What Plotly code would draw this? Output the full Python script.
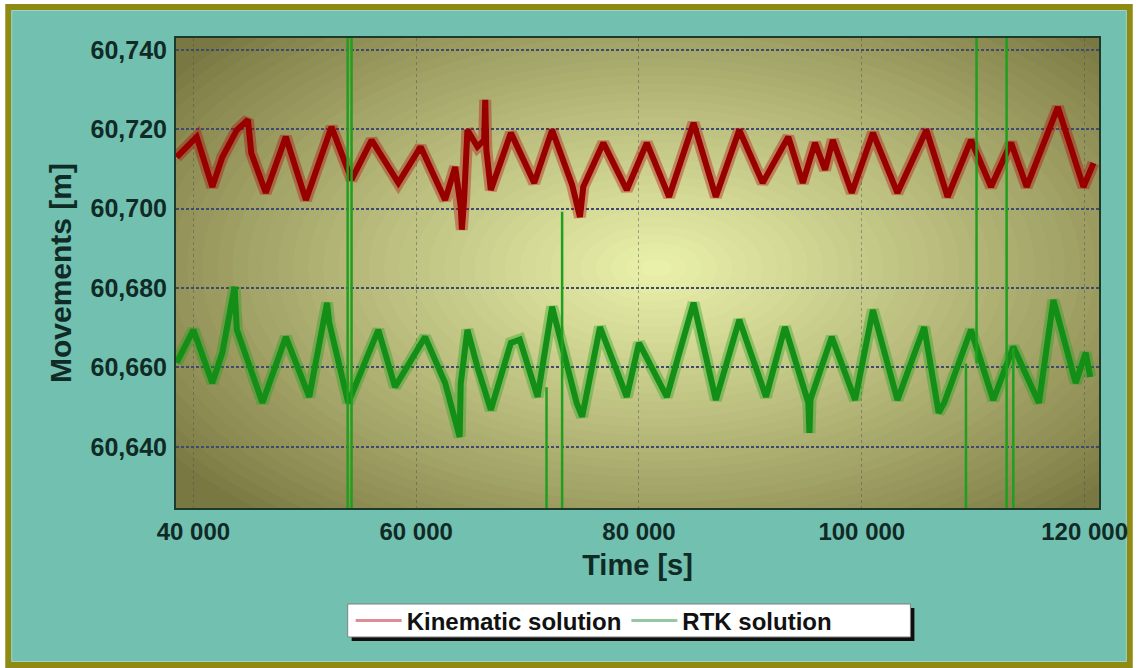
import plotly.graph_objects as go

# ---------------- data ----------------
kin_t = [38500, 40300, 41700, 42600, 43900, 44900, 45200, 46500, 48300, 50100, 52400, 53700, 54200,
         56000, 58400, 60400, 62600, 63500, 64000, 64100, 64300, 64600, 65500, 66100, 66200,
         66300, 66700, 68500, 70600, 72200, 74000, 74700, 75000, 76800, 78900, 80700, 82700,
         84900, 86900, 89000, 91100, 93400, 94700, 95800, 96700, 97400, 99100, 101000, 103200,
         105800, 107700, 109800, 111600, 113400, 114800, 117600, 119900, 120800]
kin_v = [60.7130, 60.7181, 60.7055, 60.7130, 60.7198, 60.7224, 60.7140, 60.7040, 60.7181, 60.7022,
         60.7206, 60.7115, 60.7073, 60.7173, 60.7065, 60.7156, 60.7022, 60.7105, 60.7005, 60.6947,
         60.7022, 60.7198, 60.7156, 60.7173, 60.7274, 60.7148, 60.7047, 60.7191, 60.7065, 60.7198,
         60.7060, 60.6979, 60.7055, 60.7166, 60.7047, 60.7166, 60.7030, 60.7216, 60.7030, 60.7198,
         60.7065, 60.7181, 60.7065, 60.7166, 60.7098, 60.7173, 60.7040, 60.7191, 60.7040, 60.7198,
         60.7030, 60.7173, 60.7055, 60.7166, 60.7055, 60.7256, 60.7055, 60.7115]

rtk_t = [38500, 40000, 41700, 42600, 43700, 43900, 46200, 48300, 50400, 52000, 52200, 53900,
         56600, 58100, 60800, 62600, 63900, 64000, 64600, 65500, 66700, 68500, 69300, 70900,
         72200, 74400, 74900, 76500, 78900, 80000, 82500, 84900, 86900, 89000, 91400, 93100,
         95200, 95300, 95400, 97300, 99400, 101000, 103200, 105600, 106900, 107400, 109800,
         111800, 113600, 115900, 117200, 119200, 120100, 120500]
rtk_v = [60.6612, 60.6695, 60.6561, 60.6637, 60.6803, 60.6695, 60.6511, 60.6677, 60.6526, 60.6763,
         60.6712, 60.6511, 60.6695, 60.6551, 60.6677, 60.6561, 60.6425, 60.6560, 60.6695, 60.6601,
         60.6493, 60.6662, 60.6670, 60.6526, 60.6753, 60.6511, 60.6476, 60.6702, 60.6526, 60.6662,
         60.6526, 60.6763, 60.6518, 60.6720, 60.6526, 60.6702, 60.6511, 60.6435, 60.6520, 60.6677,
         60.6518, 60.6745, 60.6518, 60.6702, 60.6486, 60.6511, 60.6695, 60.6518, 60.6652, 60.6511,
         60.6770, 60.6561, 60.6637, 60.6576]

# RTK outliers (vertical excursions leaving the visible range)
rtk_out_t = [53850, 54200, 71700, 73100, 109350, 110300, 113000, 113600]
rtk_out_lo = [60.55, 60.55, 60.55, 60.55, 60.55, 60.661, 60.55, 60.55]
rtk_out_hi = [60.80, 60.80, 60.655, 60.6992, 60.661, 60.80, 60.80, 60.665]

x_ticks = [40000, 60000, 80000, 100000, 120000]
y_ticks = [60.64, 60.66, 60.68, 60.70, 60.72, 60.74]

series_names = ["Kinematic solution", "RTK solution"]

# ---------------- styling ----------------
W, H = 1140, 668
ML, MR, MT, MB = 176, 34, 38, 160
X_RANGE = [38441, 121292]
Y_RANGE = [60.6246, 60.7430]
FONT = "Liberation Sans, Arial, Helvetica, sans-serif"
TXT = "#102a26"
TEAL = "#72c0b0"
OLIVE = "#8e8a14"

def px_to_paper_x(px):
    return (px - ML) / (W - ML - MR)

def px_to_paper_y(py):
    return (H - MB - py) / (H - MT - MB)

fig = go.Figure()

# soft halo + solid core to imitate the noisy band of the raw records
fig.add_trace(go.Scatter(x=kin_t, y=kin_v, mode="lines", name=series_names[0],
                         line=dict(color="#b00000", width=12), opacity=0.35,
                         showlegend=False, legendgroup="kin", hoverinfo="skip"))
fig.add_trace(go.Scatter(x=kin_t, y=kin_v, mode="lines", name=series_names[0],
                         line=dict(color="#980000", width=6), showlegend=False,
                         legendgroup="kin"))
fig.add_trace(go.Scatter(x=rtk_t, y=rtk_v, mode="lines", name=series_names[1],
                         line=dict(color="#18a018", width=12), opacity=0.35,
                         showlegend=False, legendgroup="rtk", hoverinfo="skip"))
fig.add_trace(go.Scatter(x=rtk_t, y=rtk_v, mode="lines", name=series_names[1],
                         line=dict(color="#138f18", width=6), showlegend=False,
                         legendgroup="rtk"))
ox, oy = [], []
for t, lo, hi in zip(rtk_out_t, rtk_out_lo, rtk_out_hi):
    ox += [t, t, None]
    oy += [lo, hi, None]
fig.add_trace(go.Scatter(x=ox, y=oy, mode="lines", name=series_names[1],
                         line=dict(color="#1ea01e", width=2.5), showlegend=False,
                         legendgroup="rtk", connectgaps=False))
# legend entries (pale line samples as in the reference)
fig.add_trace(go.Scatter(x=[None], y=[None], mode="lines", name=series_names[0],
                         line=dict(color="#e08c96", width=3), legendgroup="kin"))
fig.add_trace(go.Scatter(x=[None], y=[None], mode="lines", name=series_names[1],
                         line=dict(color="#96c8a2", width=3), legendgroup="rtk"))

shapes = []
# outer frame
shapes.append(dict(type="rect", xref="paper", yref="paper", layer="below",
                   x0=px_to_paper_x(7), x1=px_to_paper_x(1137),
                   y0=px_to_paper_y(665), y1=px_to_paper_y(7),
                   line=dict(color=OLIVE, width=6), fillcolor=TEAL))
shapes.append(dict(type="rect", xref="paper", yref="paper", layer="below",
                   x0=px_to_paper_x(10.5), x1=px_to_paper_x(1133.5),
                   y0=px_to_paper_y(661.5), y1=px_to_paper_y(10.5),
                   line=dict(color="#9fd3c2", width=1), fillcolor="rgba(0,0,0,0)"))

# radial gradient of the plot area (concentric ellipses, clipped to axes)
c_edge = (122, 120, 66)
c_mid = (236, 243, 172)
cx_px, cy_px, ax_px, ay_px = 660, 268, 610, 335
xspan = X_RANGE[1] - X_RANGE[0]
yspan = Y_RANGE[1] - Y_RANGE[0]
pw, ph = W - ML - MR, H - MT - MB
cx = X_RANGE[0] + (cx_px - ML) / pw * xspan
cy = Y_RANGE[1] - (cy_px - MT) / ph * yspan
ax = ax_px / pw * xspan
ay = ay_px / ph * yspan
shapes.append(dict(type="rect", xref="x", yref="y", layer="below",
                   x0=X_RANGE[0], x1=X_RANGE[1], y0=Y_RANGE[0], y1=Y_RANGE[1],
                   line=dict(width=0), fillcolor="rgb(%d,%d,%d)" % c_edge))
N = 40
for i in range(N):
    k = 1 - i / N
    f = (1 - k) ** 0.9
    col = tuple(int(round(c_edge[j] + (c_mid[j] - c_edge[j]) * f)) for j in range(3))
    shapes.append(dict(type="circle", xref="x", yref="y", layer="below",
                       x0=cx - ax * k, x1=cx + ax * k, y0=cy - ay * k, y1=cy + ay * k,
                       line=dict(width=0), fillcolor="rgb(%d,%d,%d)" % col))

# legend box with shadow
shapes.append(dict(type="rect", xref="paper", yref="paper", layer="above",
                   x0=px_to_paper_x(353), x1=px_to_paper_x(920),
                   y0=px_to_paper_y(641), y1=px_to_paper_y(608),
                   line=dict(width=0), fillcolor="#101010"))
shapes.append(dict(type="rect", xref="paper", yref="paper", layer="above",
                   x0=px_to_paper_x(349), x1=px_to_paper_x(916),
                   y0=px_to_paper_y(637), y1=px_to_paper_y(604),
                   line=dict(color="#808080", width=1), fillcolor="white"))

fig.update_layout(
    width=W, height=H, autosize=False,
    margin=dict(l=ML, r=MR, t=MT, b=MB, pad=0),
    paper_bgcolor="white", plot_bgcolor="rgb(%d,%d,%d)" % c_edge,
    separators=", ",
    font=dict(family=FONT, color=TXT, size=24, weight="bold"),
    shapes=shapes,
    legend=dict(orientation="h", x=px_to_paper_x(352), xanchor="left",
                y=px_to_paper_y(621), yanchor="middle",
                bgcolor="rgba(0,0,0,0)", borderwidth=0,
                font=dict(family=FONT, size=24, color="#111111", weight="bold"),
                itemwidth=46, traceorder="normal"),
    showlegend=True,
)
fig.update_xaxes(range=X_RANGE, tickvals=x_ticks, tickformat=",.0f",
                 ticks="outside", ticklen=1, tickcolor="rgba(0,0,0,0)",
                 tickfont=dict(family=FONT, size=24, color=TXT, weight="bold"),
                 showgrid=True, gridcolor="rgba(70,80,70,0.45)", griddash="dot", gridwidth=1,
                 showline=True, linecolor="#1c3a2c", linewidth=2, mirror=True,
                 zeroline=False,
                 title=dict(text="Time [s]", standoff=11,
                            font=dict(family=FONT, size=29, color=TXT, weight="bold")))
fig.update_yaxes(range=Y_RANGE, tickvals=y_ticks, tickformat=".3f",
                 ticks="outside", ticklen=2, tickcolor="rgba(0,0,0,0)",
                 tickfont=dict(family=FONT, size=25, color=TXT, weight="bold"),
                 showgrid=True, gridcolor="#3e4a6e", griddash="3px,2px", gridwidth=1.5,
                 showline=True, linecolor="#1c3a2c", linewidth=2, mirror=True,
                 zeroline=False,
                 title=dict(text="Movements [m]", standoff=10,
                            font=dict(family=FONT, size=30, color=TXT, weight="bold")))

fig.write_html("out.html", config={"displayModeBar": False},
               post_script="document.body.style.margin='0px';document.body.style.overflow='hidden';")
